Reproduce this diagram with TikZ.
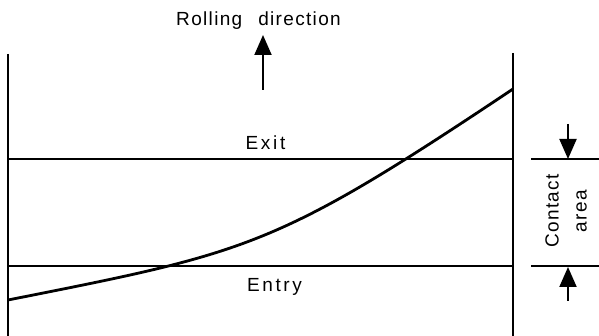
\documentclass[tikz,border=0pt]{standalone}
\usepackage{fontspec}
\setmainfont{Liberation Sans}
\newfontfamily\spaced[LetterSpace=14]{Liberation Sans}
\newfontfamily\lightspaced[LetterSpace=7]{Liberation Sans}
\usetikzlibrary{arrows.meta}

\begin{document}
\begin{tikzpicture}[x=1pt, y=-1pt, line width=2pt,
    main/.style = {font=\fontsize{19}{28}\selectfont, inner sep=0pt},
    big/.style = {-{Triangle[length=20pt, width=17pt]}}]
            \useasboundingbox (0,0) rectangle (599,336);
            % frame
            \coordinate (lt) at (8,54);
            \coordinate (lb) at (8,336);
            \coordinate (rt) at (513,53);
            \coordinate (rb) at (513,336);
            \coordinate (xl) at (8,159.5);
            \coordinate (xr) at (513,159.5);
            \coordinate (el) at (8,266);
            \coordinate (er) at (513,266);
            \draw (lt) -- (lb);
            \draw (rt) -- (rb);
            \draw (xl) -- (xr);
            \draw (el) -- (er);
            % contact line
            \coordinate (c0) at (8,300);
            \coordinate (c1) at (513,89);
            \draw [line width=2.8pt] (c0) .. controls (250,252) and (275,248) .. (c1);
            % labels
            \node[main, anchor=base] (exit) at (265.5,150) {\spaced Exit};
            \node[main, anchor=base] (entry) at (274.5,291) {\spaced Entry};
            \node[main, anchor=base] (roll) at (258.5,26) {\lightspaced Rolling\hspace{16pt}direction};
            % rolling arrow
            \coordinate (r0) at (263,90);
            \coordinate (r1) at (263,35);
            \draw [big] (r0) -- (r1);
            % contact area
            \coordinate (tx) at (531,159.5);
            \coordinate (tr) at (599,159.5);
            \coordinate (bx) at (531,266);
            \coordinate (br) at (599,266);
            \draw (tx) -- (tr);
            \draw (bx) -- (br);
            \coordinate (a0) at (568,124);
            \coordinate (a1) at (568,159);
            \coordinate (b0) at (568,301);
            \coordinate (b1) at (568,267);
            \draw [big] (a0) -- (a1);
            \draw [big] (b0) -- (b1);
            \node[main, rotate=90, align=center] (area) at (566,211) {\lightspaced Contact\\\lightspaced area};
        \end{tikzpicture}
\end{document}
